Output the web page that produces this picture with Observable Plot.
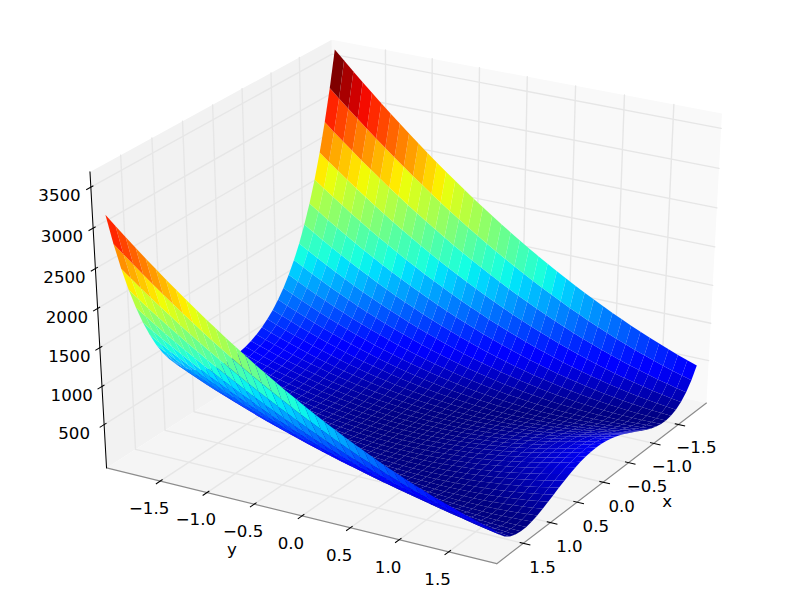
<!DOCTYPE html>
<html>
<head>
<meta charset="utf-8">
<style>html,body{margin:0;padding:0;background:#fff}svg{display:block}</style>
<script src="https://cdn.jsdelivr.net/npm/d3@7"></script>
<script src="https://cdn.jsdelivr.net/npm/@observablehq/plot@0.6"></script>
</head>
<body>
<div id="chart"></div>
<script>
const xValues = [-2,-1.9,-1.8,-1.7,-1.6,-1.5,-1.4,-1.3,-1.2,-1.1,-1,-0.9,-0.8,-0.7,-0.6,-0.5,-0.4,-0.3,-0.2,-0.1,0,0.1,0.2,0.3,0.4,0.5,0.6,0.7,0.8,0.9,1,1.1,1.2,1.3,1.4,1.5,1.6,1.7,1.8,1.9];
const yValues = [-2,-1.9,-1.8,-1.7,-1.6,-1.5,-1.4,-1.3,-1.2,-1.1,-1,-0.9,-0.8,-0.7,-0.6,-0.5,-0.4,-0.3,-0.2,-0.1,0,0.1,0.2,0.3,0.4,0.5,0.6,0.7,0.8,0.9,1,1.1,1.2,1.3,1.4,1.5,1.6,1.7,1.8,1.9];
// surface heights: one row per x value, one column per y value
const zRows = [
[3609,3490,3373,3258,3145,3034,2925,2818,2713,2610,2509,2410,2313,2218,2125,2034,1945,1858,1773,1690,1609,1530,1453,1378,1305,1234,1165,1098,1033,970,909,850,793,738,685,634,585,538,493,450],
[3156,3044,2935,2828,2723,2620,2518,2419,2322,2227,2134,2042,1953,1866,1781,1698,1616,1537,1460,1385,1312,1240,1171,1104,1039,976,914,855,798,743,690,638,589,542,497,454,412,373,336,301],
[2754,2650,2548,2448,2350,2255,2161,2069,1979,1891,1806,1722,1640,1560,1482,1407,1333,1261,1191,1123,1058,994,932,872,814,759,705,653,603,555,510,466,424,384,346,311,277,245,215,187],
[2399,2302,2207,2114,2023,1935,1848,1763,1680,1599,1521,1444,1369,1296,1225,1157,1090,1025,962,901,843,786,731,678,627,579,532,487,444,403,365,328,293,260,229,201,174,149,126,105],
[2086,1996,1908,1822,1737,1655,1575,1497,1421,1346,1274,1204,1136,1070,1005,943,883,825,769,714,662,612,564,518,473,431,391,353,317,282,250,220,192,166,141,119,99,81,65,50],
[1813,1729,1647,1567,1489,1413,1339,1267,1197,1129,1063,999,937,877,819,763,709,657,607,559,513,469,427,387,349,313,279,247,217,189,163,139,117,97,79,63,49,37,27,19],
[1574,1496,1420,1345,1273,1203,1135,1069,1004,942,882,824,768,713,661,611,563,517,472,430,390,352,316,281,249,219,191,165,140,118,98,80,64,49,37,27,19,13,8,6],
[1367,1294,1223,1155,1088,1023,960,899,841,784,729,676,625,577,530,485,442,401,363,326,291,258,227,199,172,147,124,103,85,68,53,40,29,21,14,9,6,5,7,10],
[1188,1120,1055,991,929,869,811,756,702,650,600,552,507,463,421,381,343,308,274,242,212,184,159,135,113,93,75,60,46,34,24,16,11,7,5,5,7,12,18,26],
[1035,972,910,851,794,739,686,634,585,538,493,450,408,369,332,297,264,232,203,176,151,128,106,87,70,55,42,30,21,14,9,6,4,5,8,13,20,28,39,52],
[904,845,788,733,680,629,580,533,488,445,404,365,328,293,260,229,200,173,148,125,104,85,68,53,40,29,20,13,8,5,4,5,8,13,20,29,40,53,68,85],
[793,738,685,634,584,537,492,449,408,368,331,296,263,232,202,175,150,127,106,86,69,54,41,30,20,13,8,5,4,4,7,12,19,28,38,51,66,83,102,122],
[700,648,599,551,505,461,419,380,342,306,272,240,211,183,157,133,111,92,74,58,44,32,23,15,9,5,3,4,6,10,16,24,35,47,61,77,95,116,138,162],
[623,574,527,483,440,399,360,323,289,256,225,196,169,145,122,101,82,65,51,38,27,18,11,7,4,3,4,7,13,20,29,40,53,69,86,105,126,149,175,202],
[560,513,469,427,387,349,312,278,246,216,188,161,137,115,95,77,60,46,34,24,16,9,5,3,3,5,8,14,22,32,44,57,73,91,111,133,156,182,210,240],
[509,465,423,383,345,309,275,243,213,185,159,135,113,93,75,59,45,33,23,15,9,5,3,3,5,9,15,23,33,45,59,75,93,113,135,159,185,213,243,275],
[469,426,386,348,312,278,245,215,187,161,137,114,94,76,60,46,33,23,15,9,5,2,2,4,8,14,21,31,43,57,73,90,110,132,156,182,209,239,271,305],
[439,398,359,322,287,255,224,195,168,143,121,100,81,64,49,37,26,17,10,5,3,2,3,6,11,19,28,39,52,67,85,104,125,148,173,201,230,261,294,329],
[418,378,340,304,270,239,209,181,155,131,110,90,72,56,42,31,21,13,7,3,2,2,4,8,14,23,33,45,59,75,94,114,136,160,186,215,245,277,311,347],
[405,366,329,294,260,229,200,173,148,124,103,84,67,52,38,27,18,11,6,2,1,2,5,10,16,25,36,49,64,80,99,120,143,168,194,223,254,287,322,358],
[401,362,325,290,257,226,197,170,145,122,101,82,65,50,37,26,17,10,5,2,1,2,5,10,17,26,37,50,65,82,101,122,145,170,197,226,257,290,325,362],
[405,366,328,293,260,229,200,172,147,124,103,84,66,51,38,27,18,10,5,2,1,2,4,9,16,25,36,48,63,80,99,120,142,167,194,223,254,286,321,358],
[417,377,339,303,270,238,208,180,154,131,109,89,71,55,42,30,20,12,6,3,1,1,3,7,14,22,32,44,58,75,93,113,135,159,186,214,244,276,310,347],
[437,397,358,321,286,253,223,194,167,142,119,99,80,63,48,35,25,16,9,4,1,1,2,5,10,17,27,38,51,66,83,103,124,147,172,199,229,260,293,328],
[467,425,385,346,310,276,244,214,185,159,135,113,93,74,58,44,32,22,13,7,3,1,1,2,6,12,20,30,41,55,71,89,109,130,154,180,208,238,269,303],
[507,463,421,381,343,307,273,241,211,183,157,133,111,91,73,57,43,31,21,13,7,3,1,1,3,7,13,21,31,43,57,73,91,111,133,157,183,211,241,273],
[557,511,467,425,384,346,310,276,244,213,185,159,135,113,92,74,58,44,32,21,13,7,3,1,0,2,6,12,20,29,41,55,71,89,108,130,154,180,208,237],
[620,571,525,480,437,396,357,321,286,253,222,193,167,142,119,98,79,63,48,35,24,15,9,4,1,0,1,5,10,17,26,37,51,66,83,102,123,147,172,199],
[697,645,595,548,502,458,416,376,339,303,269,237,207,180,154,130,108,88,71,55,41,29,19,12,6,2,0,0,3,7,13,21,31,44,58,74,92,112,135,159],
[790,734,681,630,581,534,488,445,404,365,328,292,259,228,199,172,146,123,102,83,66,50,37,26,17,10,4,1,0,1,4,8,15,24,35,48,62,79,98,119],
[900,841,784,729,676,625,576,529,484,441,400,361,324,289,256,225,196,169,144,121,100,81,64,49,36,25,16,9,4,1,0,1,4,9,16,25,36,49,64,81],
[1030,967,906,847,790,734,681,630,581,534,488,445,404,365,328,292,259,228,199,172,146,123,102,83,66,50,37,26,17,10,4,1,0,1,4,8,15,24,35,48],
[1183,1116,1050,986,924,864,807,751,697,645,595,548,502,458,416,376,339,303,269,237,207,180,154,130,108,88,71,55,41,29,19,12,6,2,0,0,3,7,13,21],
[1362,1289,1218,1149,1083,1018,955,894,835,779,724,671,620,571,525,480,437,396,357,321,286,253,222,193,167,142,119,98,79,63,48,35,24,15,9,4,1,0,1,5],
[1568,1490,1414,1340,1268,1197,1129,1063,999,937,876,818,762,708,656,605,557,511,467,425,384,346,310,276,244,213,185,159,135,113,92,74,58,44,32,21,13,7,3,1],
[1807,1723,1641,1561,1483,1407,1333,1261,1191,1123,1057,993,931,871,813,757,703,651,601,553,507,463,421,381,343,307,273,241,211,183,157,133,111,91,73,57,43,31,21,13],
[2080,1990,1901,1815,1731,1649,1569,1490,1414,1340,1268,1198,1129,1063,999,937,877,818,762,708,656,606,557,511,467,425,385,346,310,276,244,214,185,159,135,113,93,74,58,44],
[2392,2295,2200,2107,2017,1928,1841,1756,1673,1593,1514,1437,1362,1289,1219,1150,1083,1018,955,895,836,779,724,671,621,572,525,480,437,397,358,321,286,253,223,194,167,142,119,99],
[2746,2643,2541,2441,2343,2247,2154,2062,1972,1884,1798,1715,1633,1553,1475,1399,1326,1254,1184,1116,1050,987,925,865,807,751,698,646,596,548,502,459,417,377,339,303,270,238,208,180],
[3148,3037,2928,2820,2715,2612,2511,2412,2314,2219,2126,2035,1946,1858,1773,1690,1609,1530,1452,1377,1304,1233,1164,1096,1031,968,907,848,790,735,682,631,582,534,489,446,405,366,328,293]
];
const xTicks = [-1.5,-1,-0.5,0,0.5,1,1.5];
const yTicks = [-1.5,-1,-0.5,0,0.5,1,1.5];
const zTicks = [500,1000,1500,2000,2500,3000,3500];
const xTickLabels = ["\u22121.5","\u22121.0","\u22120.5","0.0","0.5","1.0","1.5"];
const yTickLabels = ["\u22121.5","\u22121.0","\u22120.5","0.0","0.5","1.0","1.5"];
const zTickLabels = ["500","1000","1500","2000","2500","3000","3500"];
const jetStops = [0,0.11,0.125,0.34,0.35,0.375,0.64,0.65,0.66,0.89,0.91,1];
const jetColors = ["#000080","#0000ff","#0000ff","#00dbff","#00e6f7","#15ffe2","#efff08","#f7f500","#ffec00","#ff1300","#e80000","#800000"];
const elev = 30, azim = 30, dist = 10;

const lims = [d3.extent(xValues), d3.extent(yValues), d3.extent(zRows.flat())];
const deltas = lims.map(([a, b]) => (b - a) / 12);
const mins = lims.map(([a], i) => a - deltas[i] / 4);
const maxs = lims.map(([, b], i) => b + deltas[i] / 4);
const centers = lims.map(([a, b]) => (a + b) / 2);

const rad = Math.PI / 180;
const n = [Math.cos(elev*rad)*Math.cos(azim*rad), Math.cos(elev*rad)*Math.sin(azim*rad), Math.sin(elev*rad)];
const u = [-Math.sin(azim*rad), Math.cos(azim*rad), 0];
const v = [n[1]*u[2]-n[2]*u[1], n[2]*u[0]-n[0]*u[2], n[0]*u[1]-n[1]*u[0]];
const dot = (a, b) => a[0]*b[0] + a[1]*b[1] + a[2]*b[2];
function project(p) {
  const q = p.map((c, i) => (c - lims[i][0]) / (lims[i][1] - lims[i][0]) - 0.5);
  const w = dist - dot(n, q);
  return {sx: dot(u, q) / w, sy: dot(v, q) / w, w};
}
function pathRows(paths) {
  return paths.flatMap((pts, id) => pts.map((p) => ({...project(p), id})));
}
function moved(p, axis, factor) {
  return p.map((c, i) => i === axis ? c : c + Math.sign(c - centers[i]) * deltas[i] * factor);
}

// surface quads, far ones first
const quads = [];
for (let i = 0; i < xValues.length - 1; ++i) {
  for (let j = 0; j < yValues.length - 1; ++j) {
    const pts = [[i,j],[i+1,j],[i+1,j+1],[i,j+1]].map(([a,b]) => [xValues[a], yValues[b], zRows[a][b]]);
    const proj = pts.map(project);
    quads.push({pts, proj, avg: d3.mean(pts, (p) => p[2]), depth: d3.mean(proj, (p) => p.w)});
  }
}
quads.sort((a, b) => b.depth - a.depth);
const surfaceRows = quads.flatMap((q, id) => q.proj.map((p) => ({...p, id, avg: q.avg})));
const [vmin, vmax] = d3.extent(quads, (q) => q.avg);

const [x0, y0, z0] = mins, [x1, y1, z1] = maxs;
const paneX = pathRows([[[x0,y0,z0],[x0,y1,z0],[x0,y1,z1],[x0,y0,z1]]]);
const paneY = pathRows([[[x0,y0,z0],[x1,y0,z0],[x1,y0,z1],[x0,y0,z1]]]);
const paneZ = pathRows([[[x0,y0,z0],[x1,y0,z0],[x1,y1,z0],[x0,y1,z0]]]);
const gridRows = pathRows([
  ...xTicks.map((t) => [[t,y1,z0],[t,y0,z0],[t,y0,z1]]),
  ...yTicks.map((t) => [[x1,t,z0],[x0,t,z0],[x0,t,z1]]),
  ...zTicks.map((t) => [[x1,y0,t],[x0,y0,t],[x0,y1,t]])
]);
const floorAxes = pathRows([[[x0,y1,z0],[x1,y1,z0]],[[x1,y0,z0],[x1,y1,z0]]]);
const zAxis = pathRows([[[x1,y0,z0],[x1,y0,z1]]]);
const inward = 0.1, outward = 0.2;
const tickRows = pathRows([
  ...xTicks.map((t) => [[t,y1-inward*deltas[1],z0],[t,y1+outward*deltas[1],z0]]),
  ...yTicks.map((t) => [[x1-inward*deltas[0],t,z0],[x1+outward*deltas[0],t,z0]]),
  ...zTicks.map((t) => [[x1-inward*deltas[0],y0,t],[x1+outward*deltas[0],y0,t]])
]);
const tickSpace = 0.6, labelSpace = 1.6;
const tickLabelRows = [
  ...xTicks.map((t,i) => ({...project(moved([t,y1,z0],0,tickSpace)), text: xTickLabels[i]})),
  ...yTicks.map((t,i) => ({...project(moved([x1,t,z0],1,tickSpace)), text: yTickLabels[i]})),
  ...zTicks.map((t,i) => ({...project(moved([x1,y0,t],2,tickSpace)), text: zTickLabels[i]}))
];
const xLabelRows = [{...project(moved([(x0+x1)/2,y1,z0],0,labelSpace)), text: "x"}];
const yLabelRows = [{...project(moved([x1,(y0+y1)/2,z0],1,labelSpace)), text: "y"}];

const pos = {x: "sx", y: "sy"};
const textStyle = {...pos, text: "text", fontSize: 16.67, fill: "#000", textAnchor: "middle", lineAnchor: "middle"};
const chart = Plot.plot({
  width: 800, height: 600,
  marginLeft: 0, marginRight: 0, marginTop: 0, marginBottom: 0,
  style: {fontFamily: "DejaVu Sans", background: "#fff"},
  x: {domain: [-0.095, 0.09], range: [0, 800], axis: null},
  y: {domain: [-0.095, 0.09], range: [600, 0], axis: null},
  color: {type: "linear", domain: jetStops.map((t) => vmin + t * (vmax - vmin)), range: jetColors, clamp: true},
  marks: [
    Plot.line(paneX, {...pos, fill: "#f9f9f9", stroke: "none"}),
    Plot.line(paneY, {...pos, fill: "#f2f2f2", stroke: "none"}),
    Plot.line(paneZ, {...pos, fill: "#f5f5f5", stroke: "none"}),
    Plot.line(gridRows, {...pos, z: "id", stroke: "#e6e6e6", strokeWidth: 1.39}),
    Plot.line(floorAxes, {...pos, z: "id", stroke: "#8c8c8c", strokeWidth: 1.2}),
    Plot.line(zAxis, {...pos, stroke: "#000", strokeWidth: 1.04}),
    Plot.line(tickRows, {...pos, z: "id", stroke: "#000", strokeWidth: 1.04, strokeLinecap: "square"}),
    Plot.line(surfaceRows, {...pos, z: "id", fill: "avg", stroke: "none"}),
    Plot.text(tickLabelRows, {...textStyle, dy: 6}),
    Plot.text(xLabelRows, {...textStyle, dx: 12, dy: -26}),
    Plot.text(yLabelRows, {...textStyle, dx: -35.5, dy: -23})
  ]
});
document.getElementById("chart").append(chart);
</script>
</body>
</html>
